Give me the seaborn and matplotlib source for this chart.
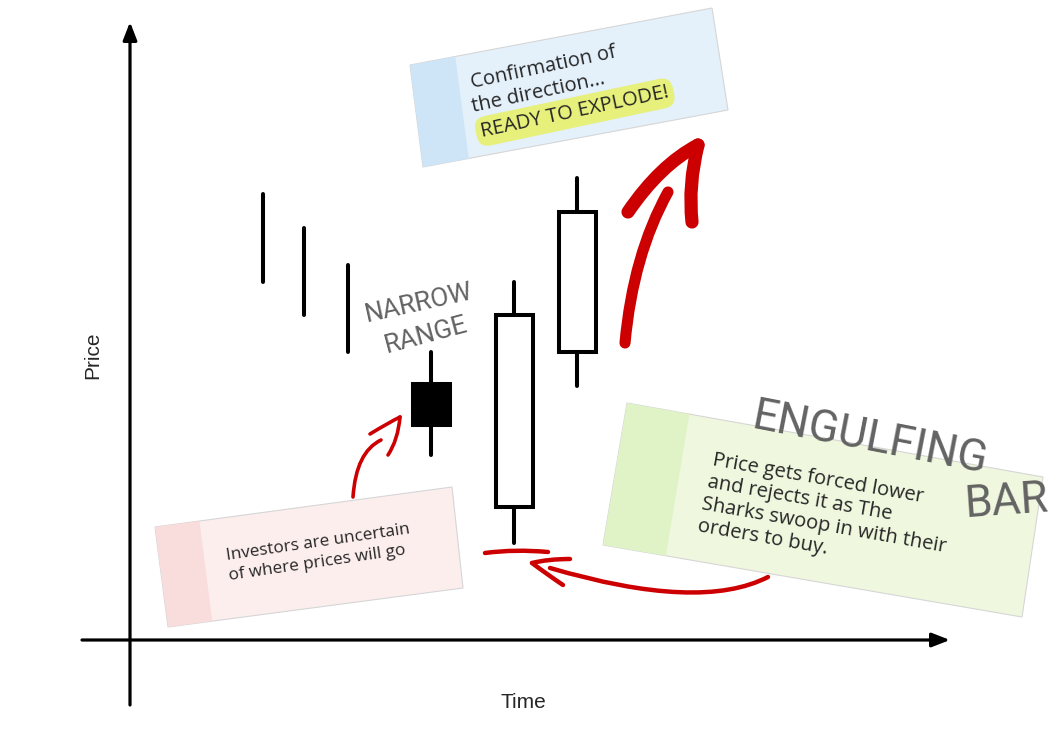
import numpy as np
import pandas as pd
import seaborn as sns
import matplotlib.pyplot as plt
from matplotlib.path import Path
from matplotlib.patches import PathPatch, Polygon

# candle data (time index, price units)
times = [1.33, 1.74, 2.18, 3.01, 3.84, 4.47]
highs = [44.6, 41.2, 37.5, 28.8, 35.8, 46.2]
lows = [35.8, 32.5, 28.8, 18.5, 9.7, 25.4]
opens = [np.nan, np.nan, np.nan, 25.6, 13.3, 28.8]
closes = [np.nan, np.nan, np.nan, 21.5, 32.5, 42.8]

note_top = ["Confirmation of", "the direction...", "READY TO EXPLODE!"]
note_left = ["Investors are uncertain", "of where prices will go"]
note_right = ["Price gets forced lower", "and rejects it as The",
              "Sharks swoop in with their", "orders to buy."]

RED = "#cc0000"
GREY = "#636363"

sns.set_theme(style="white")
plt.rcParams['font.family'] = ['Liberation Sans', 'DejaVu Sans']

fig = plt.figure(figsize=(10.62, 7.36), dpi=100)

# overlay in pixel units for the notes and hand-drawn arrows
ann = fig.add_axes([0, 0, 1, 1])
ann.set_xlim(0, 1062)
ann.set_ylim(736, 0)
ann.axis('off')

ax = fig.add_axes([0, 0, 1, 1])
ax.set_xlim(-1.30, 9.32)
ax.set_ylim(-9.6, 64.0)
ax.axis('off')

# wicks
wicks = pd.DataFrame({
    'time': times + times,
    'price': highs + lows,
    'candle': list(range(len(times))) * 2,
})
sns.lineplot(data=wicks, x='time', y='price', units='candle', estimator=None,
             sort=False, color='black', lw=2.9, legend=False, ax=ax, zorder=2)

# bodies
df = pd.DataFrame({'time': times, 'open': opens, 'close': closes}).dropna()
face = ['black' if c < o else 'white' for o, c in zip(df['open'], df['close'])]
ax.bar(df['time'], df['close'] - df['open'], bottom=df['open'], width=0.37,
       color=face, edgecolor='black', lw=2.9, zorder=3)

# axis arrows
ax.annotate('', xy=(0, 61.8), xytext=(0, -6.5),
            arrowprops=dict(arrowstyle='-|>,head_length=0.9,head_width=0.35',
                            lw=2.3, color='black', shrinkA=0, shrinkB=0))
ax.annotate('', xy=(8.2, 0), xytext=(-0.48, 0),
            arrowprops=dict(arrowstyle='-|>,head_length=0.9,head_width=0.35',
                            lw=2.3, color='black', shrinkA=0, shrinkB=0))
ann.text(93, 355, 'Price', rotation=90, ha='center', va='center', fontsize=15)
ann.text(523, 702, 'Time', ha='center', va='center', fontsize=15)


def note(corners, frac, main, strip):
    tl, tr, br, bl = [np.array(c, float) for c in corners]
    ann.add_patch(Polygon([tl, tr, br, bl], closed=True, fc=main, ec='#d6d6d6', lw=0.8))
    ann.add_patch(Polygon([tl, tl + (tr - tl) * frac, bl + (br - bl) * frac, bl],
                          closed=True, fc=strip, ec='none'))


note([(410, 65), (712, 8), (728, 110), (423, 167)], 0.15, '#e4f1fb', '#cde5f7')
note([(155, 527), (452, 487), (463, 588), (168, 627)], 0.15, '#fdeeee', '#f9dcdc')
note([(627, 403), (1043, 477), (1022, 617), (603, 545)], 0.15, '#eff8df', '#e0f3c7')

hand = ['Open Sans', 'DejaVu Sans']
for (x, y), s in zip([(472, 88), (473, 112)], note_top[:2]):
    ann.text(x, y, s, rotation=12, rotation_mode='anchor', fontsize=14.5, family=hand)
ann.text(482, 137, note_top[2], rotation=12, rotation_mode='anchor', fontsize=14.5, family=hand,
         bbox=dict(boxstyle='round,pad=0.25,rounding_size=0.6', fc='#e6f07a', ec='none'))

for (x, y), s in zip([(227, 560), (229, 580)], note_left):
    ann.text(x, y, s, rotation=8.3, rotation_mode='anchor', fontsize=12.3, family=hand)

for (x, y), s in zip([(712, 465), (707, 487), (701, 509), (697, 531)], note_right):
    ann.text(x, y, s, rotation=-10, rotation_mode='anchor', fontsize=14.5, family=hand)

# handwritten captions
thin = ['Roboto', 'DejaVu Sans']
ann.text(367, 322, 'NARROW', rotation=12.5, rotation_mode='anchor', fontsize=19,
         color=GREY, family=thin)
ann.text(387, 353, 'RANGE', rotation=15, rotation_mode='anchor', fontsize=19,
         color=GREY, family=thin)
ann.text(750, 428, 'ENGULFING', rotation=-11, rotation_mode='anchor', fontsize=32,
         color=GREY, family=thin)
ann.text(965, 517, 'BAR', rotation=4, rotation_mode='anchor', fontsize=32,
         color=GREY, family=thin)


def stroke(points, codes, lw):
    ann.add_patch(PathPatch(Path(points, codes), fc='none', ec=RED, lw=lw,
                            capstyle='round', joinstyle='round'))


C3 = [Path.MOVETO, Path.CURVE3, Path.CURVE3]
# big arrow
stroke([(625, 343), (633, 255), (668, 192)], C3, 8)
stroke([(628, 212), (660, 165), (698, 145)], C3, 9.5)
stroke([(698, 145), (688, 185), (692, 222)], C3, 9.5)
# small arrow
stroke([(353, 497), (356, 452), (381, 440)], C3, 2.6)
stroke([(370, 434), (388, 423), (400, 417)], C3, 2.6)
stroke([(400, 417), (398, 440), (388, 455)], C3, 2.6)
# bottom arrow
stroke([(768, 577), (700, 612), (550, 568)], C3, 3.2)
stroke([(570, 559), (548, 559), (532, 563)], C3, 3.2)
stroke([(532, 563), (548, 575), (563, 585)], C3, 3.2)
stroke([(485, 553), (515, 549), (548, 552)], C3, 3.2)

fig.savefig('out.png', dpi=100, facecolor='white')
